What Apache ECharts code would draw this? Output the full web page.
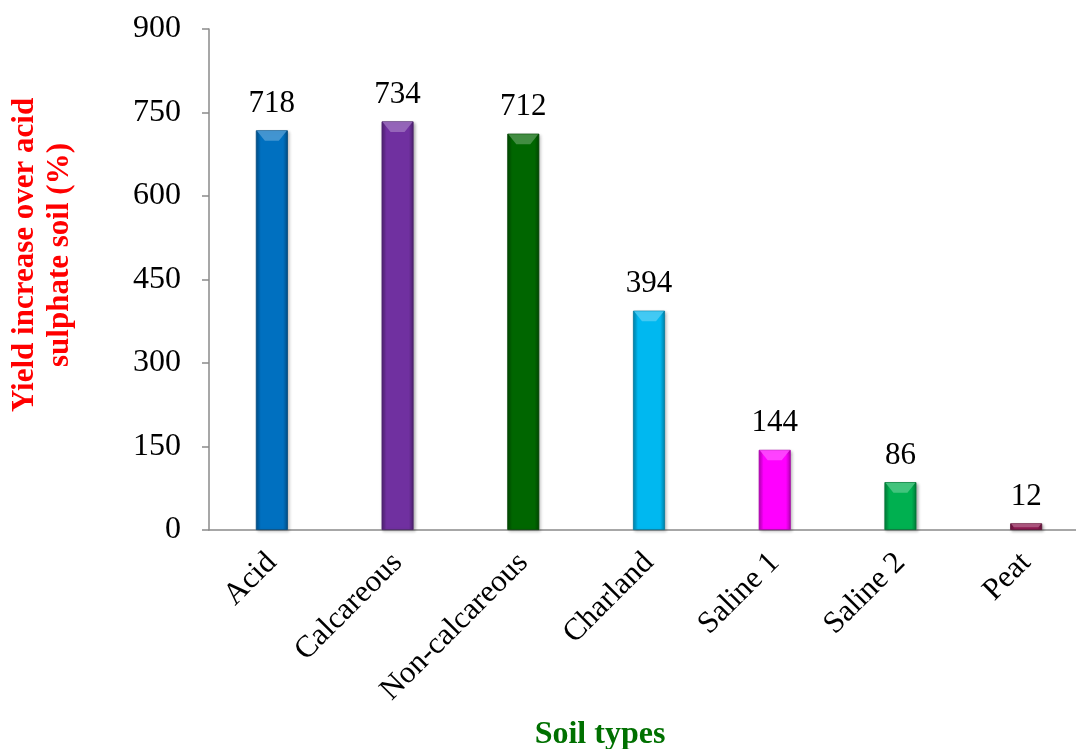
<!DOCTYPE html>
<html>
<head>
<meta charset="utf-8">
<script src="https://cdn.jsdelivr.net/npm/echarts@6/dist/echarts.min.js"></script>
<style>
  html, body { margin: 0; padding: 0; background: #fff; }
  #chart { width: 1076px; height: 749px; }
</style>
</head>
<body>
<div id="chart"></div>
<script>
// Soil types and the yield increase over acid sulphate soil (%)
const categories = ['Acid', 'Calcareous', 'Non-calcareous', 'Charland', 'Saline 1', 'Saline 2', 'Peat'];
const yieldIncrease = [718, 734, 712, 394, 144, 86, 12];
const barColors = ['#0070C0', '#7030A0', '#006600', '#00B8F0', '#FF00FF', '#00B050', '#8E1B52'];
const yTicks = [0, 150, 300, 450, 600, 750, 900];

const FONT = '"Liberation Serif", "Times New Roman", serif';
const BAR_WIDTH = 32;

function shade(hex, f) {
  const n = parseInt(hex.slice(1), 16);
  let r = (n >> 16) & 255, g = (n >> 8) & 255, b = n & 255;
  if (f < 0) { r = r * (1 + f); g = g * (1 + f); b = b * (1 + f); }
  else { r = r + (255 - r) * f; g = g + (255 - g) * f; b = b + (255 - b) * f; }
  return 'rgb(' + Math.round(r) + ',' + Math.round(g) + ',' + Math.round(b) + ')';
}

// side-shaded fill so each column reads as a bevelled block
function bevel(hex) {
  return new echarts.graphic.LinearGradient(0, 0, 1, 0, [
    { offset: 0, color: shade(hex, -0.25) },
    { offset: 0.15, color: hex },
    { offset: 0.85, color: hex },
    { offset: 1, color: shade(hex, -0.3) }
  ]);
}

const chart = echarts.init(document.getElementById('chart'), null, { renderer: 'canvas' });

chart.setOption({
  animation: false,
  backgroundColor: '#ffffff',
  grid: {
    left: 209, top: 29, width: 880, bottom: 219,
    containLabel: false,
    outerBoundsMode: 'none'
  },
  xAxis: {
    type: 'category',
    data: categories,
    axisLine: { lineStyle: { color: '#8a8a8a', width: 1.5 } },
    axisTick: { show: false },
    axisLabel: {
      interval: 0,
      rotate: 45,
      margin: 28,
      fontFamily: FONT,
      fontSize: 31,
      color: '#000'
    }
  },
  yAxis: {
    type: 'value',
    min: yTicks[0],
    max: yTicks[yTicks.length - 1],
    interval: yTicks[1] - yTicks[0],
    splitLine: { show: false },
    axisLine: { show: true, lineStyle: { color: '#8a8a8a', width: 1.5 } },
    axisTick: { show: true, inside: false, length: 7, lineStyle: { color: '#8a8a8a', width: 1.5 } },
    axisLabel: {
      margin: 28,
      fontFamily: FONT,
      fontSize: 32,
      color: '#000'
    }
  },
  series: [
    {
      type: 'bar',
      barWidth: BAR_WIDTH,
      data: yieldIncrease.map((v, i) => ({
        value: v,
        itemStyle: {
          color: bevel(barColors[i]),
          borderColor: shade(barColors[i], -0.35),
          borderWidth: 0.8,
          shadowColor: 'rgba(0,0,0,0.3)',
          shadowBlur: 3,
          shadowOffsetX: 1.5,
          shadowOffsetY: 1.5
        }
      })),
      label: {
        show: true,
        position: 'top',
        distance: 11,
        fontFamily: FONT,
        fontSize: 31,
        color: '#000'
      }
    },
    {
      // lighter bevel facet across the top of each column
      type: 'custom',
      silent: true,
      z: 3,
      data: yieldIncrease.map((v, i) => [i, v]),
      renderItem: function (params, api) {
        const i = api.value(0);
        const top = api.coord([i, api.value(1)]);
        const base = api.coord([i, 0]);
        const h = Math.min(10, (base[1] - top[1]) / 2);
        const half = BAR_WIDTH / 2 - 1;
        const inset = Math.min(8, h * 0.8);
        const x = top[0], y = top[1] + 0.5;
        return {
          type: 'polygon',
          shape: {
            points: [
              [x - half, y], [x + half, y],
              [x + half - inset, y + h], [x - half + inset, y + h]
            ]
          },
          style: { fill: shade(barColors[i], 0.3), opacity: 0.85 }
        };
      }
    }
  ],
  graphic: [
    {
      type: 'text',
      x: 42,
      y: 255,
      rotation: Math.PI / 2,
      style: {
        text: 'Yield increase over acid\nsulphate soil (%)',
        fontFamily: FONT,
        fontWeight: 'bold',
        fontSize: 31,
        lineHeight: 35,
        fill: '#FF0000',
        align: 'center',
        verticalAlign: 'middle'
      }
    },
    {
      type: 'text',
      x: 600,
      y: 735,
      style: {
        text: 'Soil types',
        fontFamily: FONT,
        fontWeight: 'bold',
        fontSize: 32,
        fill: '#007000',
        align: 'center',
        verticalAlign: 'middle'
      }
    }
  ]
});
</script>
</body>
</html>
